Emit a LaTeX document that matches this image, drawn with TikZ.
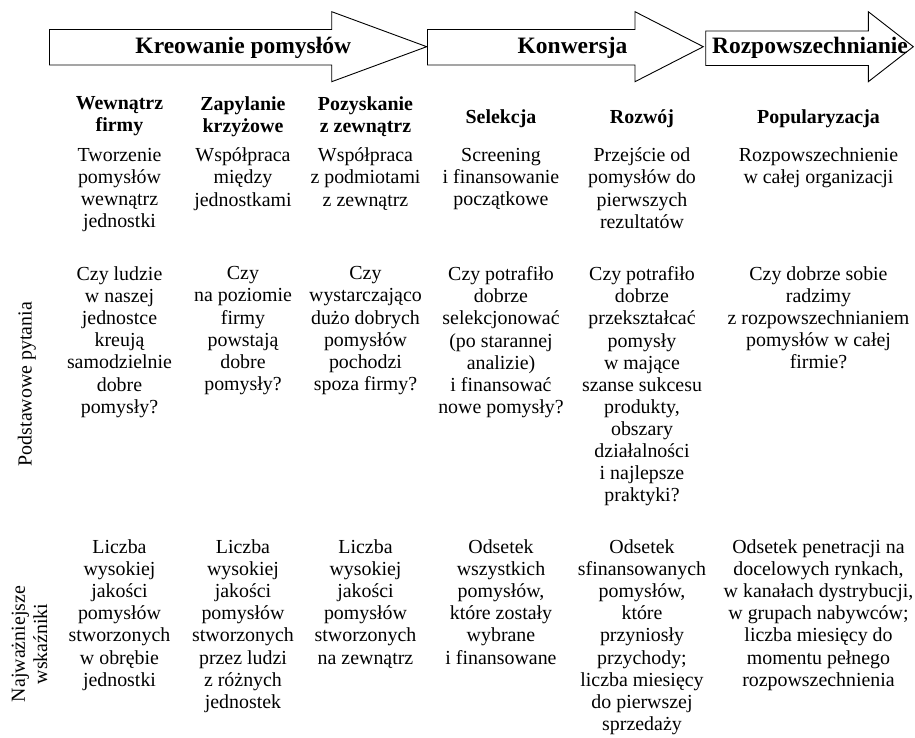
\documentclass[tikz,border=0pt]{standalone}
\usepackage{fontspec}
\setmainfont{Liberation Serif}

\begin{document}
\begin{tikzpicture}[x=1pt,y=-1pt,
    txt/.style={font=\fontsize{19.9}{22.1}\selectfont, align=center, inner sep=0pt, anchor=north, execute at begin node=\strut},
    hd/.style={txt, font=\fontsize{19.9}{22.1}\selectfont\bfseries},
    phase/.style={font=\fontsize{23.5}{26}\selectfont\bfseries, inner sep=0pt, anchor=base},
    blk/.style={draw, line width=0.9pt, fill=white, line join=miter},
    side/.style={txt, anchor=base, rotate=90}]
      \useasboundingbox (0,0) rectangle (915,738);

      \draw[blk] (49.5,29.5) -- (331.7,29.5) -- (331.7,11.7) -- (426.7,46.7) -- (331.7,81.7) -- (331.7,65) -- (49.5,65) -- cycle;
      \draw[blk] (427.5,29.5) -- (635,29.5) -- (635,11.7) -- (703.3,46.7) -- (635,81.7) -- (635,65) -- (427.5,65) -- cycle;
      \draw[blk] (705.7,31) -- (868.3,31) -- (868.3,11.7) -- (913.3,46.7) -- (868.3,81.7) -- (868.3,65.5) -- (705.7,65.5) -- cycle;

      \node[phase] (kreo) at (243.3,53.3) {Kreowanie pomysłów};
      \node[phase] (konw) at (572.5,53.3) {Konwersja};
      \node[phase] (rozp) at (810,53.3) {Rozpowszechnianie};

      \node[hd] (h1) at (119.5,96.2) {Wewnątrz\\firmy};
      \node[hd] (h2) at (243,96.2) {Zapylanie\\krzyżowe};
      \node[hd] (h3) at (365.5,96.2) {Pozyskanie\\z zewnątrz};
      \node[hd] (h4) at (501,107.5) {Selekcja};
      \node[hd] (h5) at (642,107.5) {Rozwój};
      \node[hd] (h6) at (818.5,107.5) {Popularyzacja};

      \node[txt] (d1) at (119.5,147.8) {Tworzenie\\pomysłów\\wewnątrz\\jednostki};
      \node[txt] (d2) at (243,147.8) {Współpraca\\między\\jednostkami};
      \node[txt] (d3) at (365.5,147.8) {Współpraca\\z podmiotami\\z zewnątrz};
      \node[txt] (d4) at (501,147.8) {Screening\\i finansowanie\\początkowe};
      \node[txt] (d5) at (642,147.8) {Przejście od\\pomysłów do\\pierwszych\\rezultatów};
      \node[txt] (d6) at (818.5,147.8) {Rozpowszechnienie\\w całej organizacji};

      \node[txt] (q1) at (119.5,266.5) {Czy ludzie\\w naszej\\jednostce\\kreują\\samodzielnie\\dobre\\pomysły?};
      \node[txt] (q2) at (243,266.5) {Czy\\na poziomie\\firmy\\powstają\\dobre\\pomysły?};
      \node[txt] (q3) at (365.5,266.5) {Czy\\wystarczająco\\dużo dobrych\\pomysłów\\pochodzi\\spoza firmy?};
      \node[txt] (q4) at (501,266.5) {Czy potrafiło\\dobrze\\selekcjonować\\(po starannej\\analizie)\\i finansować\\nowe pomysły?};
      \node[txt] (q5) at (642,266.5) {Czy potrafiło\\dobrze\\przekształcać\\pomysły\\w mające\\szanse sukcesu\\produkty,\\obszary\\działalności\\i najlepsze\\praktyki?};
      \node[txt] (q6) at (818.5,266.5) {Czy dobrze sobie\\radzimy\\z rozpowszechnianiem\\pomysłów w całej\\firmie?};

      \node[txt] (i1) at (119.5,539.5) {Liczba\\wysokiej\\jakości\\pomysłów\\stworzonych\\w obrębie\\jednostki};
      \node[txt] (i2) at (243,539.5) {Liczba\\wysokiej\\jakości\\pomysłów\\stworzonych\\przez ludzi\\z różnych\\jednostek};
      \node[txt] (i3) at (365.5,539.5) {Liczba\\wysokiej\\jakości\\pomysłów\\stworzonych\\na zewnątrz};
      \node[txt] (i4) at (501,539.5) {Odsetek\\wszystkich\\pomysłów,\\które zostały\\wybrane\\i finansowane};
      \node[txt] (i5) at (642,539.5) {Odsetek\\sfinansowanych\\pomysłów,\\które\\przyniosły\\przychody;\\liczba miesięcy\\do pierwszej\\sprzedaży};
      \node[txt] (i6) at (818.5,539.5) {Odsetek penetracji na\\docelowych rynkach,\\w kanałach dystrybucji,\\w grupach nabywców;\\liczba miesięcy do\\momentu pełnego\\rozpowszechnienia};

      \node[side] (pyt) at (31.5,384) {Podstawowe pytania};
      \node[side] (wsk) at (47,644) {Najważniejsze\\wskaźniki};
    \end{tikzpicture}
\end{document}
